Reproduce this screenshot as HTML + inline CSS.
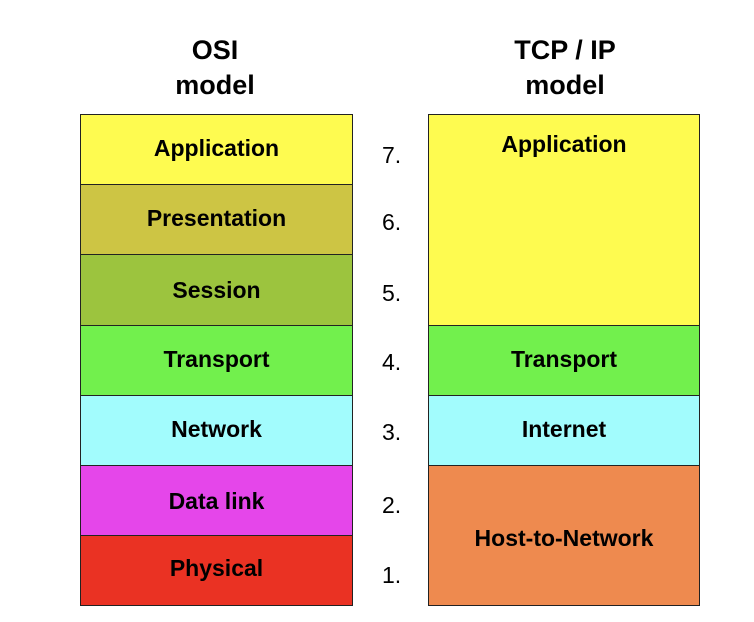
<!DOCTYPE html>
<html><head><style>
body{margin:0;width:754px;height:622px;background:#fff;position:relative;overflow:hidden;font-family:"Liberation Sans",Arial,sans-serif;font-weight:bold;color:#000}
.b{position:absolute;box-sizing:border-box;border:1.5px solid #222;display:flex;justify-content:center;font-size:23px;padding-bottom:4px}
.t{position:absolute;text-align:center;font-size:27px;line-height:35px}
.n{position:absolute;left:382px;font-size:23px;font-weight:normal;width:30px}
</style></head><body>
<div class="t" style="left:130px;top:33px;width:170px">OSI<br>model</div>
<div class="t" style="left:480px;top:33px;width:170px">TCP / IP<br>model</div>

<div class="b" style="left:80px;top:114px;width:273px;height:72px;background:#fefb50;align-items:center">Application</div>
<div class="b" style="left:80px;top:184px;width:273px;height:72px;background:#cdc544;align-items:center">Presentation</div>
<div class="b" style="left:80px;top:254px;width:273px;height:73px;background:#9cc43e;align-items:center;padding-bottom:0">Session</div>
<div class="b" style="left:80px;top:325px;width:273px;height:72px;background:#72f04d;align-items:center">Transport</div>
<div class="b" style="left:80px;top:395px;width:273px;height:72px;background:#a2fcfd;align-items:center">Network</div>
<div class="b" style="left:80px;top:465px;width:273px;height:72px;background:#e546ea;align-items:center;padding-bottom:0">Data link</div>
<div class="b" style="left:80px;top:535px;width:273px;height:71px;background:#ea3223;align-items:center">Physical</div>

<div class="b" style="left:428px;top:114px;width:272px;height:213px;background:#fefb50;align-items:flex-start;padding-top:16px">Application</div>
<div class="b" style="left:428px;top:325px;width:272px;height:72px;background:#72f04d;align-items:center">Transport</div>
<div class="b" style="left:428px;top:395px;width:272px;height:72px;background:#a2fcfd;align-items:center">Internet</div>
<div class="b" style="left:428px;top:465px;width:272px;height:141px;background:#ee8a4f;align-items:center;padding-bottom:0;padding-top:6px">Host-to-Network</div>

<div class="n" style="top:142px">7.</div>
<div class="n" style="top:209px">6.</div>
<div class="n" style="top:280px">5.</div>
<div class="n" style="top:349px">4.</div>
<div class="n" style="top:419px">3.</div>
<div class="n" style="top:492px">2.</div>
<div class="n" style="top:562px">1.</div>
</body></html>
